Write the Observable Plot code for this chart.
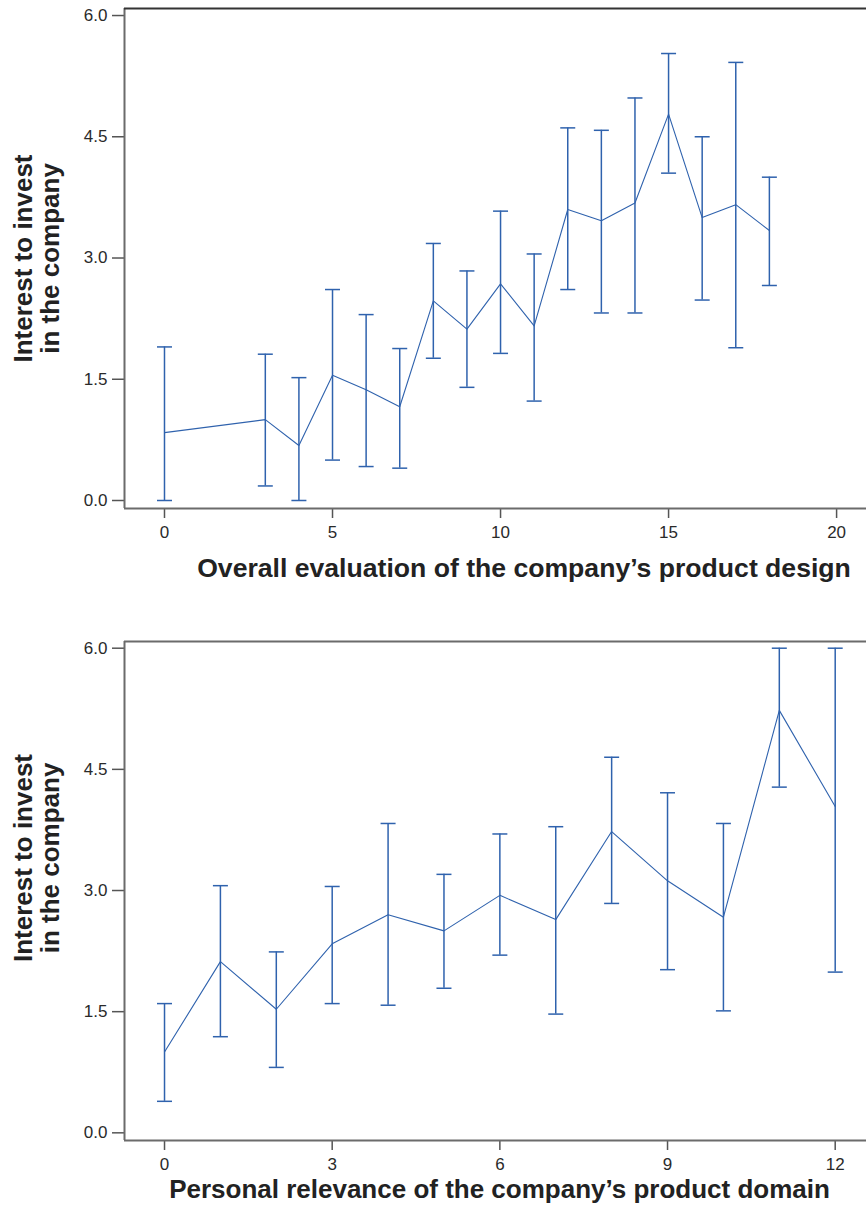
<!DOCTYPE html>
<html><head><meta charset="utf-8">
<script src="https://cdn.jsdelivr.net/npm/d3@7"></script>
<script src="https://cdn.jsdelivr.net/npm/@observablehq/plot@0.6"></script>
<style>
body{margin:0;background:#fff;}
#wrap{width:866px;}
#wrap svg{display:block;}
</style></head><body><div id="wrap"></div>
<script>
// ---- data ----
const yTicks = [0, 1.5, 3, 4.5, 6];
const yTitle = "Interest to invest\nin the company";

const designX    = [0, 3, 4, 5, 6, 7, 8, 9, 10, 11, 12, 13, 14, 15, 16, 17, 18];
const designMean = [0.84, 1.00, 0.68, 1.55, 1.37, 1.16, 2.47, 2.12, 2.68, 2.16, 3.60, 3.46, 3.68, 4.78, 3.50, 3.66, 3.34];
const designLow  = [0.00, 0.18, 0.00, 0.50, 0.42, 0.40, 1.76, 1.40, 1.82, 1.23, 2.61, 2.32, 2.32, 4.05, 2.48, 1.89, 2.66];
const designHigh = [1.90, 1.81, 1.52, 2.61, 2.30, 1.88, 3.18, 2.84, 3.58, 3.05, 4.61, 4.58, 4.98, 5.53, 4.50, 5.42, 4.00];
const designTicks = [0, 5, 10, 15, 20];
const designTitle = "Overall evaluation of the company\u2019s product design";

const relevanceX    = [0, 1, 2, 3, 4, 5, 6, 7, 8, 9, 10, 11, 12];
const relevanceMean = [1.00, 2.12, 1.53, 2.34, 2.70, 2.50, 2.94, 2.64, 3.73, 3.12, 2.67, 5.23, 4.04];
const relevanceLow  = [0.39, 1.19, 0.81, 1.60, 1.58, 1.79, 2.20, 1.47, 2.84, 2.02, 1.51, 4.28, 1.99];
const relevanceHigh = [1.60, 3.06, 2.24, 3.05, 3.83, 3.20, 3.70, 3.79, 4.65, 4.21, 3.83, 6.00, 6.00];
const relevanceTicks = [0, 3, 6, 9, 12];
const relevanceTitle = "Personal relevance of the company\u2019s product domain";

// ---- drawing ----
const blue = "#2f62ad";
const frameColor = "#6b6b6b";
const font = "'Liberation Sans', Arial, Helvetica, sans-serif";
const cap = {draw(ctx) { ctx.moveTo(-7.5, 0); ctx.lineTo(7.5, 0); }};

function panel(o) {
  const data = o.xs.map((x, i) => ({x, mean: o.mean[i], low: o.low[i], high: o.high[i]}));
  return Plot.plot({
    width: 866, height: o.height,
    marginLeft: 124, marginRight: 0, marginTop: o.marginTop, marginBottom: o.marginBottom,
    style: {fontFamily: font, background: "#fff", overflow: "visible"},
    x: {domain: o.xDomain},
    y: {domain: o.yDomain},
    marks: [
      Plot.axisY({ticks: yTicks, tickFormat: d3.format(".1f"), tickSize: 12, tickPadding: 5,
                  fontSize: 17, fill: "#2a2a2a", stroke: "#555", strokeWidth: 1.5, label: null}),
      Plot.axisX({ticks: o.xTicks, tickFormat: d3.format("d"), tickSize: 10, tickPadding: 7,
                  fontSize: 17, fill: "#2a2a2a", stroke: "#555", strokeWidth: 1.5, label: null}),
      Plot.ruleX([o.xDomain[0]], {stroke: frameColor, strokeWidth: 2}),
      Plot.ruleY([o.yDomain[0]], {stroke: frameColor, strokeWidth: 2}),
      Plot.ruleY([o.yDomain[1]], {stroke: o.topColor, strokeWidth: 2}),
      Plot.ruleX(data, {x: "x", y1: "low", y2: "high", stroke: blue, strokeWidth: 1.5}),
      Plot.dot(data, {x: "x", y: "high", symbol: cap, r: 7, fill: "none", stroke: blue, strokeWidth: 1.5}),
      Plot.dot(data, {x: "x", y: "low", symbol: cap, r: 7, fill: "none", stroke: blue, strokeWidth: 1.5}),
      Plot.line(data, {x: "x", y: "mean", stroke: blue, strokeWidth: 1.1}),
      Plot.text([o.xTitle], {text: d => d, frameAnchor: "bottom", dx: o.xTitleDx, dy: o.xTitleDy,
                  fontSize: o.xTitleSize, fontWeight: "bold", fill: "#222", textAnchor: "middle", lineAnchor: "middle"}),
      Plot.text([yTitle], {text: d => d, frameAnchor: "left", rotate: -90, dx: -88, dy: o.yTitleDy,
                  fontSize: 26, fontWeight: "bold", fill: "#222", textAnchor: "middle", lineAnchor: "middle", lineHeight: 1.04})
    ]
  });
}

const wrap = document.getElementById("wrap");
wrap.append(panel({
  xs: designX, mean: designMean, low: designLow, high: designHigh,
  xTicks: designTicks, xDomain: [-1.19, 20.89], yDomain: [-0.099, 6.087],
  height: 600, marginTop: 8, marginBottom: 92, topColor: "#333",
  xTitle: designTitle, xTitleSize: 26.6, xTitleDx: 28.5, xTitleDy: 59.7, yTitleDy: 0
}));
wrap.append(panel({
  xs: relevanceX, mean: relevanceMean, low: relevanceLow, high: relevanceHigh,
  xTicks: relevanceTicks, xDomain: [-0.716, 12.56], yDomain: [-0.095, 6.083],
  height: 607, marginTop: 41, marginBottom: 67, topColor: frameColor,
  xTitle: relevanceTitle, xTitleSize: 26, xTitleDx: 4, xTitleDy: 48.7, yTitleDy: -33
}));
</script>
</body></html>
